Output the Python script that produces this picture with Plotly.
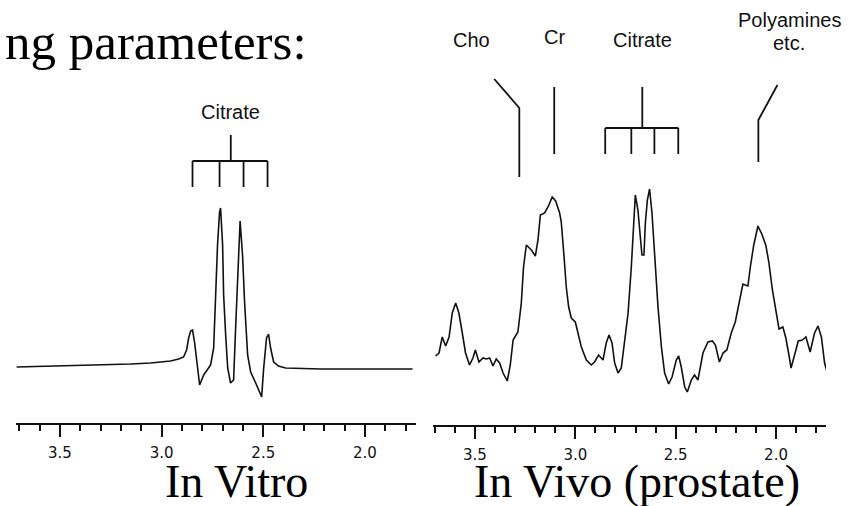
import plotly.graph_objects as go

# ---------------- data ----------------
# In vitro spectrum (ppm, intensity in arbitrary units)
vitro_ppm = [3.713, 3.497, 3.300, 3.152, 3.054, 2.956, 2.916, 2.892, 2.877, 2.867, 2.857, 2.848,
             2.838, 2.828, 2.813, 2.793, 2.774, 2.759, 2.744, 2.734, 2.725, 2.715, 2.710, 2.700,
             2.695, 2.685, 2.675, 2.661, 2.646, 2.636, 2.626, 2.614, 2.602, 2.592, 2.577, 2.562,
             2.533, 2.508, 2.498, 2.484, 2.474, 2.464, 2.449, 2.425, 2.390, 2.218, 2.021, 1.766]
vitro_int = [56, 57, 58, 59, 60, 62, 64, 66, 73, 85, 92, 93,
             81, 61, 38, 48, 53, 58, 75, 128, 178, 211, 215, 178,
             128, 88, 55, 40, 43, 95, 145, 202, 168, 121, 68, 51,
             38, 26, 55, 85, 89, 75, 61, 57, 55, 54, 54, 54]

# In vivo (prostate) spectrum
vivo_ppm = [3.696, 3.679, 3.663, 3.646, 3.629, 3.613, 3.596, 3.580, 3.563, 3.547, 3.527, 3.510,
            3.498, 3.480, 3.460, 3.443, 3.427, 3.410, 3.394, 3.377, 3.360, 3.339, 3.324, 3.310,
            3.286, 3.269, 3.258, 3.244, 3.219, 3.199, 3.186, 3.174, 3.153, 3.136, 3.115, 3.098,
            3.078, 3.070, 3.056, 3.045, 3.033, 3.020, 3.000, 2.987, 2.970, 2.945, 2.920, 2.904,
            2.884, 2.862, 2.846, 2.832, 2.817, 2.804, 2.787, 2.771, 2.754, 2.737, 2.721, 2.707,
            2.701, 2.688, 2.675, 2.668, 2.658, 2.651, 2.641, 2.630, 2.618, 2.605, 2.588, 2.571,
            2.555, 2.535, 2.518, 2.497, 2.485, 2.472, 2.455, 2.442, 2.422, 2.406, 2.389, 2.364,
            2.339, 2.317, 2.302, 2.282, 2.264, 2.245, 2.223, 2.203, 2.183, 2.165, 2.153, 2.140,
            2.128, 2.111, 2.090, 2.071, 2.051, 2.036, 2.018, 2.003, 1.985, 1.966, 1.951, 1.934,
            1.925, 1.905, 1.889, 1.869, 1.851, 1.830, 1.808, 1.791, 1.774, 1.758, 1.744]
vivo_int = [69, 72, 88, 79, 88, 112, 122, 112, 92, 72, 60, 67,
            75, 63, 67, 66, 67, 59, 66, 62, 52, 44, 60, 85,
            93, 122, 158, 180, 175, 169, 185, 210, 212, 218, 228, 224,
            212, 203, 168, 138, 118, 107, 103, 92, 78, 65, 60, 63,
            70, 65, 82, 90, 82, 62, 52, 57, 85, 112, 158, 208,
            230, 215, 188, 170, 170, 202, 225, 236, 212, 168, 118, 78,
            52, 41, 48, 65, 69, 58, 38, 33, 45, 50, 45, 72,
            83, 84, 80, 63, 72, 75, 92, 103, 122, 141, 140, 139,
            158, 180, 199, 191, 180, 163, 135, 115, 96, 98, 87, 68,
            57, 72, 84, 85, 88, 73, 92, 99, 88, 62, 52]

# peak assignment markers (ppm)
vitro_citrate_lines = [2.848, 2.715, 2.597, 2.479]
vivo_citrate_lines = [2.851, 2.721, 2.606, 2.487]
cho_ppm = [3.404, 3.279]
cr_ppm = 3.105
poly_ppm = [1.993, 2.088]

peak_labels = ["Cho", "Cr", "Citrate", "Polyamines", "etc."]
peak_label_ppm = [3.518, 3.105, 2.666, 1.934, 1.934]

tick_vals = [3.5, 3.0, 2.5, 2.0]
tick_text = ["3.5", "3.0", "2.5", "2.0"]

# ---------------- figure ----------------
W, H = 854, 506
fig = go.Figure()

line_style = dict(color="#111111", width=1.6)
mark_style = dict(color="#111111", width=1.8)

fig.add_trace(go.Scatter(x=vitro_ppm, y=vitro_int, mode="lines", line=line_style,
                         xaxis="x", yaxis="y", hoverinfo="skip", showlegend=False))
fig.add_trace(go.Scatter(x=vivo_ppm, y=vivo_int, mode="lines", line=line_style,
                         xaxis="x2", yaxis="y2", hoverinfo="skip", showlegend=False))


def tree(lines, top, bar, bottom):
    xs, ys = [], []
    c = sum(lines) / len(lines)
    xs += [c, c, None]
    ys += [top, bar, None]
    xs += [lines[0], lines[-1], None]
    ys += [bar, bar, None]
    for v in lines:
        xs += [v, v, None]
        ys += [bar, bottom, None]
    return xs, ys, c


# left citrate tree
lx, ly, lc = tree(vitro_citrate_lines, 288, 262, 236)
fig.add_trace(go.Scatter(x=lx, y=ly, mode="lines", line=mark_style, xaxis="x", yaxis="y",
                         hoverinfo="skip", showlegend=False))

# right markers
rx, ry, rc = tree(vivo_citrate_lines, 338, 297, 271)
rx += [cho_ppm[0], cho_ppm[1], cho_ppm[1], None]
ry += [346, 317, 248, None]
rx += [cr_ppm, cr_ppm, None]
ry += [338, 271, None]
rx += [poly_ppm[0], poly_ppm[1], poly_ppm[1], None]
ry += [340, 305, 263, None]
fig.add_trace(go.Scatter(x=rx, y=ry, mode="lines", line=mark_style, xaxis="x2", yaxis="y2",
                         hoverinfo="skip", showlegend=False))

lab_font = dict(family="Liberation Sans, Arial", size=20, color="#111111")
annotations = [
    dict(x=lc, y=311, xref="x", yref="y", text="Citrate", showarrow=False, font=lab_font),
]
label_y = [385, 388, 385, 405, 382]
for t, px, py in zip(peak_labels, peak_label_ppm, label_y):
    annotations.append(dict(x=px, y=py, xref="x2", yref="y2", text=t, showarrow=False, font=lab_font))

serif = "Liberation Serif, Times New Roman, serif"
annotations += [
    dict(x=0.0, y=1 - 42 / H, xref="paper", yref="paper", xanchor="left", yanchor="middle",
         xshift=3,
         text="ng parameters:", showarrow=False, font=dict(family=serif, size=51, color="black")),
    dict(x=236.7 / W, y=1 - 481 / H, xref="paper", yref="paper", xanchor="center", yanchor="middle",
         text="In Vitro", showarrow=False, font=dict(family=serif, size=46, color="black")),
    dict(x=636.5 / W, y=1 - 481 / H, xref="paper", yref="paper", xanchor="center", yanchor="middle",
         text="In Vivo (prostate)", showarrow=False, font=dict(family=serif, size=46, color="black")),
]

axis_common = dict(
    showgrid=False, zeroline=False, showline=True, linecolor="#111111", linewidth=2,
    ticks="outside", ticklen=12, tickwidth=2, tickcolor="#111111",
    tickmode="array", tickvals=tick_vals, ticktext=tick_text,
    tickfont=dict(family="DejaVu Sans", size=15, color="#111111"),
    ticklabelstandoff=3,
    minor=dict(ticks="outside", ticklen=6, tickwidth=2, tickcolor="#111111", dtick=0.1, tick0=2.0,
               showgrid=False),
    fixedrange=True,
)

fig.update_layout(
    width=W, height=H,
    margin=dict(l=0, r=0, t=0, b=0),
    paper_bgcolor="white", plot_bgcolor="white",
    showlegend=False,
    xaxis=dict(domain=[16 / W, 416 / W], range=[3.716, 1.749], anchor="y", **axis_common),
    yaxis=dict(domain=[1 - 423 / H, 1], range=[0, 423], visible=False, anchor="x"),
    xaxis2=dict(domain=[433 / W, 826 / W], range=[3.709, 1.751], anchor="y2", **axis_common),
    yaxis2=dict(domain=[1 - 425 / H, 1], range=[0, 425], visible=False, anchor="x2"),
    annotations=annotations,
)

fig.write_html("out.html", config={"displayModeBar": False},
               post_script="document.body.style.margin='0';document.body.style.overflow='hidden';")
